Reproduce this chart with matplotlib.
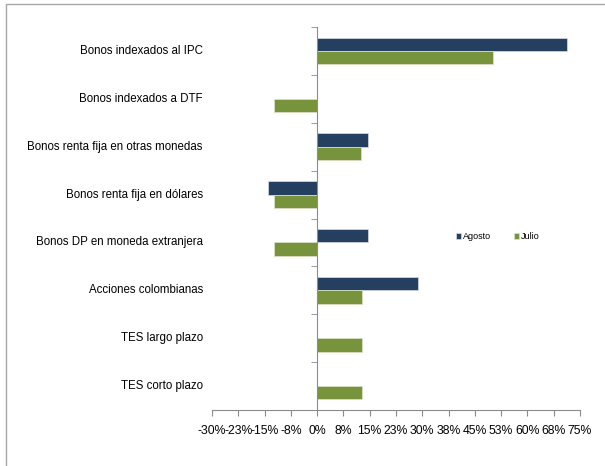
import numpy as np
import matplotlib
matplotlib.use('Agg')
import matplotlib.pyplot as plt
from matplotlib.patches import Rectangle

plt.rcParams['font.family'] = ['Liberation Sans', 'DejaVu Sans']

categorias = ['Bonos indexados al IPC', 'Bonos indexados a DTF',
              'Bonos renta fija en otras monedas', 'Bonos renta fija en dólares',
              'Bonos DP en moneda extranjera', 'Acciones colombianas',
              'TES largo plazo', 'TES corto plazo']
agosto = [71.4, 0.0, 14.5, -14.1, 14.4, 28.7, 0.0, 0.0]
julio = [50.1, -12.4, 12.6, -12.4, -12.4, 12.7, 12.7, 12.7]
xticks = [-30, -22.5, -15, -7.5, 0, 7.5, 15, 22.5, 30, 37.5, 45, 52.5, 60, 67.5, 75]
xlabels = ['-30%', '-23%', '-15%', '-8%', '0%', '8%', '15%', '23%', '30%',
           '38%', '45%', '53%', '60%', '68%', '75%']

c_ago = '#253F60'
c_jul = '#77933C'
gris = '#8C8C8C'

fig = plt.figure(figsize=(6.05, 4.66), dpi=100)
fig.patches.append(Rectangle((6 / 605, -0.1), 1.2, 1 - 4 / 466 + 0.1,
                             transform=fig.transFigure, fill=False,
                             edgecolor='#A6A6A6', linewidth=1.0))
ax = fig.add_axes([212 / 605, 1 - 410 / 466, 368 / 605, 383 / 466])

y = np.arange(len(categorias))
h = 0.28
ax.barh(y - h / 2, agosto, height=h, color=c_ago, edgecolor='#D9DEE6',
        linewidth=0.5, label='Agosto')
ax.barh(y + h / 2, julio, height=h, color=c_jul, edgecolor='#DDE6CC',
        linewidth=0.5, label='Julio')

ax.set_ylim(len(categorias) - 0.5, -0.5)
ax.set_xlim(-30, 75)

for s in ['top', 'right']:
    ax.spines[s].set_visible(False)
ax.spines['left'].set_position(('data', 0))
ax.spines['left'].set_color(gris)
ax.spines['bottom'].set_color(gris)

ax.set_yticks([])
ax.set_yticks(np.arange(-0.5, len(categorias), 1), minor=True)
ax.tick_params(axis='y', which='minor', length=4, color=gris, direction='out')
for i, c in enumerate(categorias):
    ax.text(-0.025, i, c, transform=ax.get_yaxis_transform(), ha='right',
            va='center', fontsize=8.3)

ax.set_xticks(xticks)
ax.set_xticklabels(xlabels, fontsize=8.8)
ax.tick_params(axis='x', length=4, color=gris, pad=7)

ax.legend(loc='center', bbox_to_anchor=(0.776, 0.452), ncol=2, frameon=False,
          fontsize=6.5, handlelength=0.6, handleheight=0.6, handletextpad=0.2,
          columnspacing=2.5, borderpad=0)

fig.savefig('out.png', dpi=100)
